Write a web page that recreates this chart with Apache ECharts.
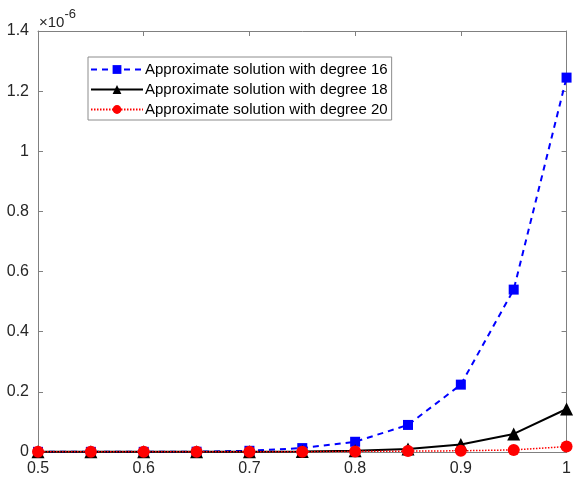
<!DOCTYPE html>
<html>
<head>
<meta charset="utf-8">
<script src="https://cdn.jsdelivr.net/npm/echarts@6/dist/echarts.min.js"></script>
<style>
  html, body { margin: 0; padding: 0; background: #fff; }
  #chart { width: 574px; height: 477px; }
</style>
</head>
<body>
<div id="chart"></div>
<script>
// x positions and values (in units of 1e-6)
const xs = [0.5, 0.55, 0.6, 0.65, 0.7, 0.75, 0.8, 0.85, 0.9, 0.95, 1.0];
const deg16 = [0.0005, 0.0005, 0.0005, 0.001, 0.004, 0.013, 0.034, 0.09, 0.224, 0.54, 1.245];
const deg18 = [0.0005, 0.0005, 0.0005, 0.0005, 0.001, 0.002, 0.004, 0.01, 0.025, 0.06, 0.143];
const deg20 = [0.0005, 0.0005, 0.0005, 0.0005, 0.0005, 0.001, 0.002, 0.003, 0.004, 0.007, 0.018];
const names = [
  'Approximate solution with degree 16',
  'Approximate solution with degree 18',
  'Approximate solution with degree 20'
];

const pairs = ys => xs.map((x, i) => [x, ys[i]]);
const font = 'Arial, "Liberation Sans", sans-serif';
const axisGray = '#808080';
const labelColor = '#262626';

const chart = echarts.init(document.getElementById('chart'));

const baseX = {
  type: 'value', min: 0.5, max: 1, interval: 0.1,
  axisLine: { show: true, onZero: false, lineStyle: { color: axisGray, width: 1 } },
  axisTick: { show: true, inside: true, length: 5, lineStyle: { color: axisGray } },
  splitLine: { show: false }
};
const baseY = {
  type: 'value', min: 0, max: 1.4, interval: 0.2,
  axisLine: { show: true, onZero: false, lineStyle: { color: axisGray, width: 1 } },
  axisTick: { show: true, inside: true, length: 5, lineStyle: { color: axisGray } },
  splitLine: { show: false }
};

chart.setOption({
  animation: false,
  backgroundColor: '#fff',
  textStyle: { fontFamily: font },
  grid: { left: 38, right: 3, top: 31, bottom: 25 },
  xAxis: [
    Object.assign({}, baseX, {
      position: 'bottom',
      axisLabel: { color: labelColor, fontSize: 16, fontFamily: font, margin: 9 }
    }),
    Object.assign({}, baseX, { position: 'top', axisLabel: { show: false } })
  ],
  yAxis: [
    Object.assign({}, baseY, {
      position: 'left',
      axisLabel: {
        color: labelColor, fontSize: 16, fontFamily: font, margin: 9,
        formatter: v => String(Math.round(v * 10) / 10)
      }
    }),
    Object.assign({}, baseY, { position: 'right', axisLabel: { show: false } })
  ],
  legend: {
    left: 88, top: 57,
    orient: 'vertical',
    itemWidth: 52, itemHeight: 11, itemGap: 5,
    padding: [5, 4, 3, 2],
    backgroundColor: '#fff',
    borderColor: '#8c8c8c', borderWidth: 1,
    textStyle: { color: '#000', fontSize: 15, fontFamily: font, padding: [0, 0, 0, -3] },
    data: names
  },
  graphic: [{
    type: 'text', left: 39, top: 8,
    style: {
      text: '{a|×10}{b|-6}',
      rich: {
        a: { fontSize: 15, fill: labelColor, fontFamily: font, padding: [7, 0, 0, 0] },
        b: { fontSize: 13, fill: labelColor, fontFamily: font, verticalAlign: 'top' }
      }
    }
  }],
  series: [
    {
      name: names[0], type: 'line', data: pairs(deg16),
      symbol: 'rect', symbolSize: 10,
      itemStyle: { color: '#0000ff' },
      lineStyle: { color: '#0000ff', width: 2, type: [6, 5] }
    },
    {
      name: names[1], type: 'line', data: pairs(deg18),
      symbol: 'triangle', symbolSize: 13,
      itemStyle: { color: '#000' },
      lineStyle: { color: '#000', width: 2 }
    },
    {
      name: names[2], type: 'line', data: pairs(deg20),
      symbol: 'circle', symbolSize: 12,
      itemStyle: { color: '#ff0000' },
      lineStyle: { color: '#ff0000', width: 1.5, type: [1.5, 1.5] }
    }
  ]
});
</script>
</body>
</html>
